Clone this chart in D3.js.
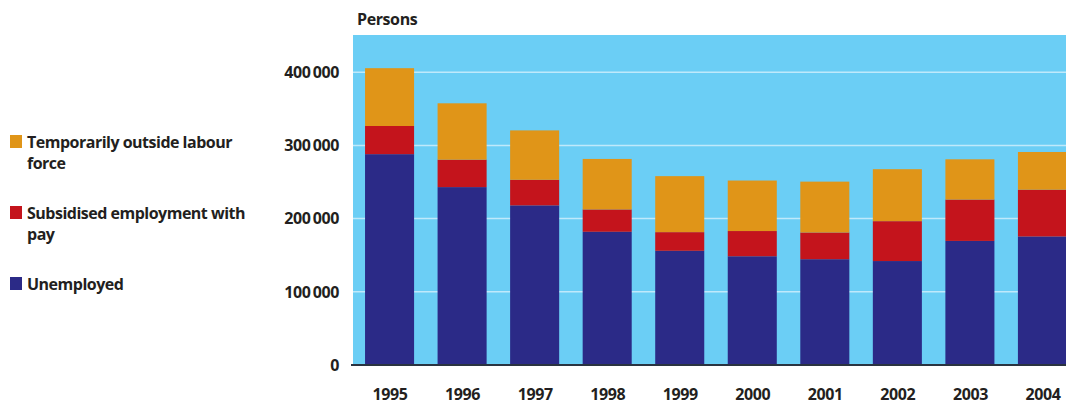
<!DOCTYPE html>
<html>
<head>
<meta charset="utf-8">
<script src="https://cdn.jsdelivr.net/npm/d3@7"></script>
<style>
  body { margin: 0; background: #fff; }
  text { font-family: "Open Sans", sans-serif; font-weight: bold; fill: #231f20; }
</style>
</head>
<body>
<svg id="svg1" width="1066" height="406"></svg>
<script>
var years = ["1995", "1996", "1997", "1998", "1999", "2000", "2001", "2002", "2003", "2004"];
var unemployed = [288000, 243000, 218000, 182000, 156000, 148500, 144500, 142000, 169500, 175500];
var subsidised = [38500, 37500, 35000, 30500, 25500, 34500, 36500, 54500, 56500, 64000];
var temporarily = [79000, 77000, 67500, 69000, 76500, 69000, 69500, 71000, 55000, 51500];
var seriesNames = ["Unemployed", "Subsidised employment with pay", "Temporarily outside labour force"];
var legendLines = [["Temporarily outside labour", "force"], ["Subsidised employment with", "pay"], ["Unemployed"]];
var yTicks = [0, 100000, 200000, 300000, 400000];

var colors = {
    "Unemployed": "#2b2a87",
    "Subsidised employment with pay": "#c4141c",
    "Temporarily outside labour force": "#e09518"
};

var svg1 = d3.select("#svg1"),
    plotLeft = 353,
    plotRight = 1079,
    plotTop = 35,
    plotBottom = 365;

// rows for the stack
var rows = years.map(function (y, i) {
    var r = {year: y};
    r[seriesNames[0]] = unemployed[i];
    r[seriesNames[1]] = subsidised[i];
    r[seriesNames[2]] = temporarily[i];
    return r;
});
var stacked = d3.stack().keys(seriesNames)(rows);

var x = d3.scaleBand()
    .domain(years)
    .range([plotLeft, plotRight])
    .paddingInner(0.324)
    .paddingOuter(0.166);

var y = d3.scaleLinear()
    .domain([0, 400000])
    .range([plotBottom, plotBottom - 292.8]);

var locale = d3.formatLocale({decimal: ",", thousands: "\u2009", grouping: [3], currency: ["", ""]});
var fmt = locale.format(",");

// background
svg1.append("rect")
    .attr("x", plotLeft)
    .attr("y", plotTop)
    .attr("width", plotRight - plotLeft)
    .attr("height", plotBottom - plotTop)
    .attr("fill", "#6bcef5");

// grid
svg1.append("g")
    .selectAll("line")
    .data(yTicks.slice(1))
    .enter()
    .append("line")
    .attr("x1", plotLeft)
    .attr("x2", plotRight)
    .attr("y1", function (d) { return y(d); })
    .attr("y2", function (d) { return y(d); })
    .attr("stroke", "#bfe9fb")
    .attr("stroke-width", 1.5);

// bars
svg1.append("g")
    .selectAll("g")
    .data(stacked)
    .enter()
    .append("g")
    .attr("fill", function (d) { return colors[d.key]; })
    .selectAll("rect")
    .data(function (d) { return d; })
    .enter()
    .append("rect")
    .attr("x", function (d) { return x(d.data.year); })
    .attr("y", function (d) { return y(d[1]); })
    .attr("width", x.bandwidth())
    .attr("height", function (d) { return y(d[0]) - y(d[1]); });

// baseline
svg1.append("line")
    .attr("x1", plotLeft - 2)
    .attr("x2", plotRight)
    .attr("y1", y(0))
    .attr("y2", y(0))
    .attr("stroke", "#2a3340")
    .attr("stroke-width", 2);

// y axis labels
svg1.append("g")
    .selectAll("text")
    .data(yTicks)
    .enter()
    .append("text")
    .attr("x", 339)
    .attr("y", function (d) { return y(d); })
    .attr("dy", "0.36em")
    .attr("text-anchor", "end")
    .attr("font-size", 16)
    .attr("letter-spacing", -0.4)
    .text(function (d) { return fmt(d); });

// x axis labels
svg1.append("g")
    .selectAll("text")
    .data(years)
    .enter()
    .append("text")
    .attr("x", function (d) { return x(d) + x.bandwidth() / 2 + 0.5; })
    .attr("y", 400)
    .attr("text-anchor", "middle")
    .attr("font-size", 16)
    .attr("letter-spacing", -0.4)
    .text(function (d) { return d; });

svg1.append("text")
    .attr("x", 357)
    .attr("y", 25)
    .attr("font-size", 16)
    .attr("letter-spacing", -0.4)
    .text("Persons");

// legend
var legendColors = [colors[seriesNames[2]], colors[seriesNames[1]], colors[seriesNames[0]]];
var legendTop = [135, 206, 277];
var legend = svg1.append("g")
    .selectAll("g")
    .data(legendLines)
    .enter()
    .append("g")
    .attr("transform", function (d, i) { return "translate(10," + legendTop[i] + ")"; });

legend.append("rect")
    .attr("width", 12)
    .attr("height", 13)
    .attr("fill", function (d, i) { return legendColors[i]; });

legend.append("text")
    .attr("font-size", 16)
    .attr("letter-spacing", -0.5)
    .selectAll("tspan")
    .data(function (d) { return d; })
    .enter()
    .append("tspan")
    .attr("x", 17)
    .attr("y", function (d, i) { return 13 + i * 21; })
    .text(function (d) { return d; });
</script>
</body>
</html>
